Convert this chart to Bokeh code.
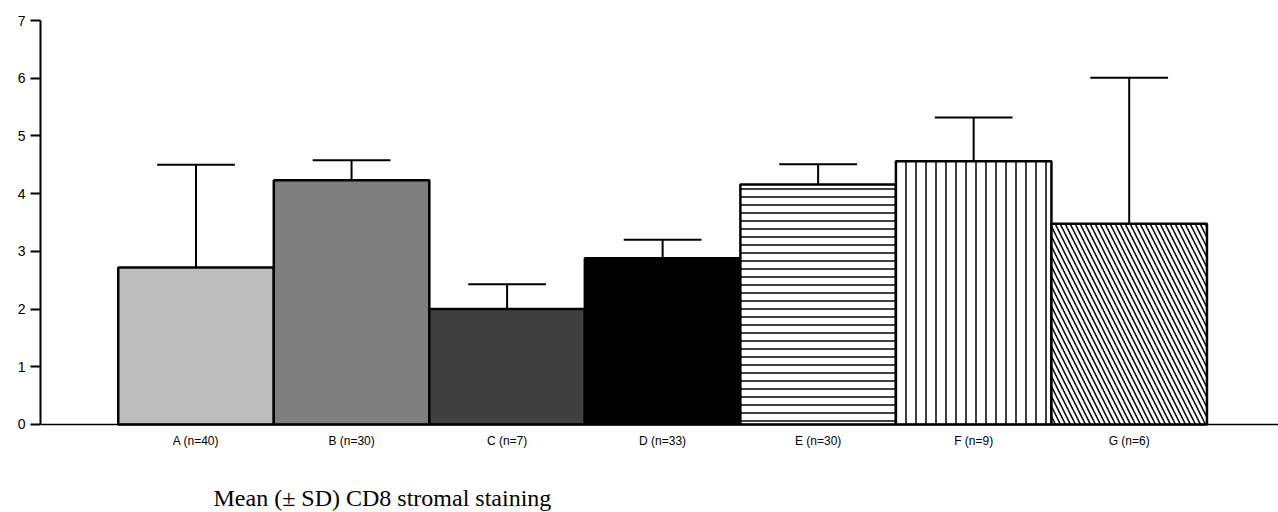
from bokeh.plotting import figure
from bokeh.models import Range1d, FixedTicker, Label, ColumnDataSource
from bokeh.embed import file_html
from bokeh.resources import INLINE

# ---- data ----
categories = ["A (n=40)", "B (n=30)", "C (n=7)", "D (n=33)", "E (n=30)", "F (n=9)", "G (n=6)"]
means = [2.72, 4.23, 2.00, 2.88, 4.16, 4.56, 3.48]
sds = [1.78, 0.35, 0.43, 0.32, 0.35, 0.76, 2.53]
title_text = "Mean (\u00b1 SD) CD8 stromal staining"

# ---- styles ----
fills = ["#bdbdbd", "#7f7f7f", "#404040", "#000000", "#ffffff", "#ffffff", "#ffffff"]
hatches = [" ", " ", " ", " ", "-", "|", "\\"]
hscales = [8, 8, 8, 8, 8, 10, 10]

xs = list(range(len(categories)))
tops = [m + s for m, s in zip(means, sds)]
cap_half = 0.25

src = ColumnDataSource(dict(x=xs, top=means, fill=fills, hatch=hatches, hscale=hscales))

p = figure(width=1278, height=512, x_range=Range1d(-1.0, 6.96), y_range=Range1d(-1.5248, 7),
           output_backend="svg", toolbar_location=None,
           min_border_left=40, min_border_right=0, min_border_top=20, min_border_bottom=0)
p.outline_line_color = None
p.grid.visible = False
p.background_fill_color = "white"

p.vbar(x="x", top="top", bottom=0, width=1.0, source=src,
       fill_color="fill", line_color="black", line_width=2.5,
       hatch_pattern="hatch", hatch_scale="hscale", hatch_color="black", hatch_weight=1.5)

# error bars (upper only)
p.segment(x0=xs, y0=means, x1=xs, y1=tops, line_color="black", line_width=2)
p.segment(x0=[x - cap_half for x in xs], y0=tops, x1=[x + cap_half for x in xs], y1=tops,
          line_color="black", line_width=2)

# y axis
p.yaxis.ticker = FixedTicker(ticks=list(range(0, 8)))
p.yaxis.bounds = (0, 7)
p.yaxis.minor_tick_line_color = None
p.yaxis.major_tick_in = 0
p.yaxis.major_tick_out = 10
p.yaxis.major_tick_line_width = 2
p.yaxis.axis_line_width = 2
p.yaxis.major_label_standoff = 5
p.yaxis.major_label_text_font = "Liberation Sans"
p.yaxis.major_label_text_font_size = "14px"
p.yaxis.major_label_text_color = "black"

# x axis, placed at y = 0
p.xaxis.fixed_location = 0
p.xaxis.ticker = FixedTicker(ticks=xs)
p.xaxis.major_label_overrides = {x: c for x, c in zip(xs, categories)}
p.xaxis.major_tick_line_color = None
p.xaxis.major_tick_in = 0
p.xaxis.major_tick_out = 0
p.xaxis.minor_tick_line_color = None
p.xaxis.axis_line_width = 1.5
p.xaxis.major_label_standoff = 10
p.xaxis.major_label_text_font = "Liberation Sans"
p.xaxis.major_label_text_font_size = "12px"
p.xaxis.major_label_text_color = "black"

p.add_layout(Label(x=0.1125, y=-1.50, text=title_text, text_font="Liberation Serif",
                   text_font_size="24px", text_baseline="bottom", text_color="black"))

open("out.html", "w").write(file_html(p, INLINE))
